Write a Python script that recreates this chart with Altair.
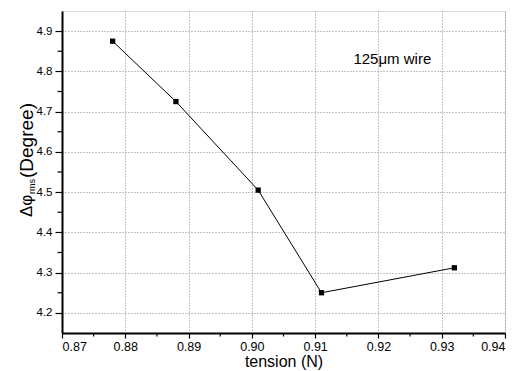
import altair as alt
import pandas as pd

tension = [0.878, 0.888, 0.901, 0.911, 0.932]
dphi = [4.875, 4.725, 4.505, 4.250, 4.312]

x_major = [0.87, 0.88, 0.89, 0.90, 0.91, 0.92, 0.93, 0.94]
x_minor = [0.875, 0.885, 0.895, 0.905, 0.915, 0.925, 0.935]
y_major = [4.2, 4.3, 4.4, 4.5, 4.6, 4.7, 4.8, 4.9]
y_minor = [4.25, 4.35, 4.45, 4.55, 4.65, 4.75, 4.85]

annotation = ["125\u03bcm wire"]
annot_x = [0.9222]
annot_y = [4.83]

W, H = 443, 322
FONT = "Liberation Sans"

df = pd.DataFrame({"tension": tension, "dphi": dphi})

xscale = alt.Scale(domain=[0.87, 0.94], nice=False, zero=False)
yscale = alt.Scale(domain=[4.15, 4.95], nice=False, zero=False)

xaxis = alt.Axis(values=x_major, format=".2f", title="tension (N)",
                 grid=True, gridColor="#8a8a8a", gridDash=[1, 2], gridWidth=1,
                 tickSize=5, tickColor="black", tickWidth=1.2,
                 domainColor="black", domainWidth=2,
                 labelFont=FONT, labelFontSize=12.5, labelColor="black", labelPadding=2,
                 titleFont=FONT, titleFontSize=16, titleFontWeight="normal",
                 titleColor="black", titlePadding=1)
yaxis = alt.Axis(values=y_major, format=".1f", title=None,
                 grid=True, gridColor="#8a8a8a", gridDash=[1, 2], gridWidth=1,
                 tickSize=7, tickColor="black", tickWidth=1.2,
                 domainColor="black", domainWidth=2,
                 labelFont=FONT, labelFontSize=11.5, labelColor="black", labelPadding=3)

line = alt.Chart(df).mark_line(color="black", strokeWidth=1).encode(
    x=alt.X("tension:Q", scale=xscale, axis=xaxis),
    y=alt.Y("dphi:Q", scale=yscale, axis=yaxis),
)
pts = alt.Chart(df).mark_square(color="black", size=28, opacity=1).encode(
    x=alt.X("tension:Q", scale=xscale),
    y=alt.Y("dphi:Q", scale=yscale),
)

xm = alt.Chart(pd.DataFrame({"v": x_minor})).mark_rule(color="black", strokeWidth=1.2).encode(
    x=alt.X("v:Q", scale=xscale), y=alt.value(H), y2=alt.value(H + 3.5)
)
ym = alt.Chart(pd.DataFrame({"v": y_minor})).mark_rule(color="black", strokeWidth=1.2).encode(
    y=alt.Y("v:Q", scale=yscale), x=alt.value(0), x2=alt.value(-4.5)
)

ann = alt.Chart(pd.DataFrame({"t": annotation, "x": annot_x, "y": annot_y})).mark_text(
    font=FONT, fontSize=15, color="black", align="center", baseline="middle"
).encode(x=alt.X("x:Q", scale=xscale), y=alt.Y("y:Q", scale=yscale), text="t:N")

def ytitle(txt, xpos, ypos, size):
    return alt.Chart(pd.DataFrame({"t": [txt]})).mark_text(
        font=FONT, fontSize=size, color="black", angle=270, align="left", baseline="middle"
    ).encode(x=alt.value(xpos), y=alt.value(ypos), text="t:N")

t1 = ytitle("\u0394\u03c6", -35, 206, 17)
t2 = ytitle("rms", -30, 183, 9)
t3 = ytitle("(Degree)", -35, 167, 19)

chart = alt.layer(line, pts, xm, ym, ann, t1, t2, t3).properties(
    width=W, height=H,
    autosize=alt.AutoSizeParams(type="none"),
    padding={"left": 62, "top": 11, "right": 13, "bottom": 38},
).configure_view(stroke="#777777", strokeWidth=1.5).configure(background="white")

chart.save("out.html", embed_options={"renderer": "svg", "actions": False})
